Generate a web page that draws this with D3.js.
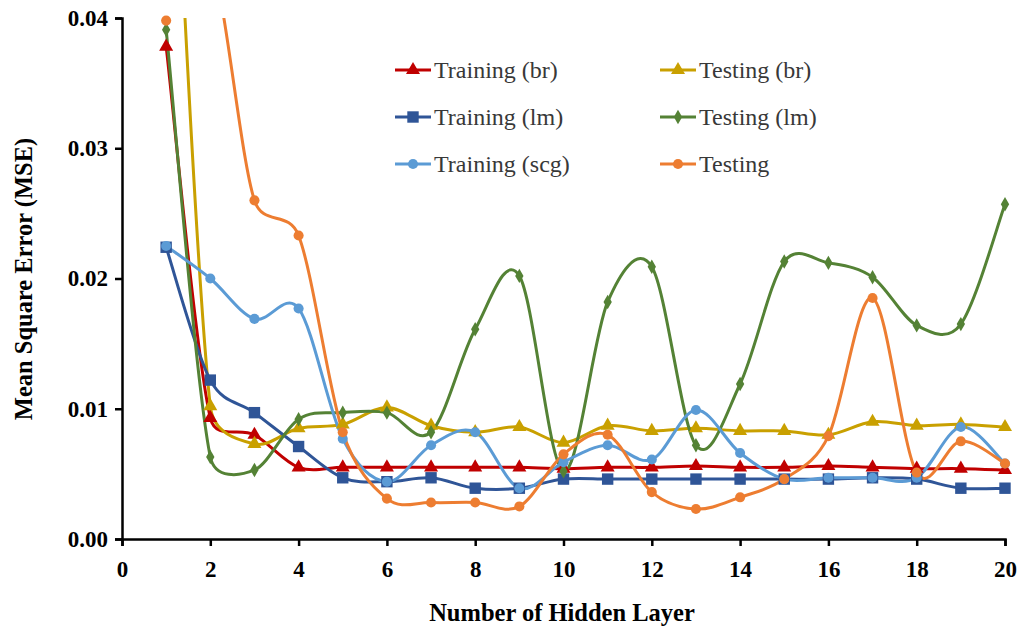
<!DOCTYPE html>
<html>
<head>
<meta charset="utf-8">
<script src="https://cdn.jsdelivr.net/npm/d3@7"></script>
<style>
  body { margin: 0; background: #fff; }
  svg text { font-family: "Liberation Serif", "Times New Roman", serif; }
</style>
</head>
<body>
<div id="chart"></div>
<script>
// hidden layers 1..20
const layers = d3.range(1, 21);

const trainBr  = [0.0378, 0.0093, 0.0080, 0.0055, 0.0055, 0.0055, 0.0055, 0.0055, 0.0055, 0.0054, 0.0055, 0.0055, 0.0056, 0.0055, 0.0055, 0.0056, 0.0055, 0.0054, 0.0054, 0.0053];
const testBr   = [0.0680, 0.0102, 0.0073, 0.0085, 0.0088, 0.0101, 0.0087, 0.0082, 0.0086, 0.0074, 0.0087, 0.0083, 0.0085, 0.0083, 0.0083, 0.0080, 0.0090, 0.0087, 0.0088, 0.0086];
const trainLm  = [0.0224, 0.0122, 0.0097, 0.0071, 0.0047, 0.0044, 0.0047, 0.0039, 0.0039, 0.0046, 0.0046, 0.0046, 0.0046, 0.0046, 0.0046, 0.0046, 0.0047, 0.0046, 0.0039, 0.0039];
const testLm   = [0.0391, 0.0063, 0.0053, 0.0092, 0.0097, 0.0097, 0.0082, 0.0161, 0.0202, 0.0052, 0.0182, 0.0209, 0.0072, 0.0119, 0.0213, 0.0212, 0.0201, 0.0164, 0.0165, 0.0257];
const trainScg = [0.0225, 0.0200, 0.0169, 0.0177, 0.0077, 0.0044, 0.0072, 0.0082, 0.0039, 0.0059, 0.0072, 0.0061, 0.0099, 0.0066, 0.0046, 0.0047, 0.0047, 0.0047, 0.0086, 0.0058];
const testScg  = [0.0398, 0.0445, 0.0260, 0.0233, 0.0082, 0.0031, 0.0028, 0.0028, 0.0025, 0.0065, 0.0080, 0.0036, 0.0023, 0.0032, 0.0046, 0.0079, 0.0185, 0.0051, 0.0075, 0.0058];

const seriesNames = ["Training (br)", "Testing (br)", "Training (lm)", "Testing (lm)", "Training (scg)", "Testing"];
const seriesValues = [trainBr, testBr, trainLm, testLm, trainScg, testScg];
const seriesColors = ["#C00000", "#C9A000", "#2F5597", "#548235", "#5B9BD5", "#ED7D31"];
const seriesSymbols = [d3.symbolTriangle, d3.symbolTriangle, d3.symbolSquare, d3.symbolDiamond, d3.symbolCircle, d3.symbolCircle];
const symbolSizes = [85, 85, 130, 60, 80, 80];

const xTicks = d3.range(0, 21, 2);
const yTicks = [0, 0.01, 0.02, 0.03, 0.04];

const W = 1021, H = 630;
const margin = {top: 18, right: 16, bottom: 91, left: 122};
const serif = "'Liberation Serif', 'Times New Roman', serif";

const svg = d3.select("#chart").append("svg")
  .attr("width", W).attr("height", H);

const x = d3.scaleLinear().domain([0, 20]).range([margin.left, W - margin.right]);
const y = d3.scaleLinear().domain([0, 0.04]).range([H - margin.bottom, margin.top]);

svg.append("clipPath").attr("id", "clip")
  .append("rect")
  .attr("x", margin.left).attr("y", margin.top)
  .attr("width", W - margin.right - margin.left)
  .attr("height", H - margin.bottom - margin.top);

// axes
const xAxis = svg.append("g")
  .attr("transform", "translate(0," + (H - margin.bottom) + ")")
  .call(d3.axisBottom(x).tickValues(xTicks).tickSize(7).tickSizeOuter(7).tickFormat(d3.format("d")));
const yAxis = svg.append("g")
  .attr("transform", "translate(" + margin.left + ",0)")
  .call(d3.axisLeft(y).tickValues(yTicks).tickSize(7).tickSizeOuter(7).tickFormat(d3.format(".2f")));

[xAxis, yAxis].forEach(function(a) {
  a.attr("font-family", serif);
  a.select(".domain").attr("stroke", "#000").attr("stroke-width", 2.5);
  a.selectAll(".tick line").attr("stroke", "#000").attr("stroke-width", 2.5);
  a.selectAll(".tick text")
    .attr("fill", "#000")
    .style("font-size", "23px")
    .style("font-weight", "bold")
    .style("font-family", serif);
});
xAxis.selectAll(".tick text").attr("dy", "1.2em");
yAxis.selectAll(".tick text").attr("x", -14);

svg.append("text")
  .attr("x", 562)
  .attr("y", 621)
  .attr("text-anchor", "middle")
  .style("font-size", "24.5px").style("font-weight", "bold")
  .text("Number of Hidden Layer");

svg.append("text")
  .attr("transform", "translate(32,279) rotate(-90)")
  .attr("text-anchor", "middle")
  .style("font-size", "24.5px").style("font-weight", "bold")
  .text("Mean Square Error  (MSE)");

// spreadsheet style smoothing: bezier with 1/6 tangents, capped by chord length
function smoothPath(pts) {
  const p = d3.path();
  const dist = function(a, b) { return Math.hypot(b[0] - a[0], b[1] - a[1]); };
  p.moveTo(pts[0][0], pts[0][1]);
  for (let i = 0; i < pts.length - 1; i++) {
    const p0 = pts[Math.max(i - 1, 0)], p1 = pts[i], p2 = pts[i + 1], p3 = pts[Math.min(i + 2, pts.length - 1)];
    const d12 = dist(p1, p2), d02 = dist(p0, p2) || 1, d13 = dist(p1, p3) || 1;
    const f1 = Math.min(1 / 6, d12 / (2 * d02));
    const f2 = Math.min(1 / 6, d12 / (2 * d13));
    p.bezierCurveTo(
      p1[0] + (p2[0] - p0[0]) * f1, p1[1] + (p2[1] - p0[1]) * f1,
      p2[0] - (p3[0] - p1[0]) * f2, p2[1] - (p3[1] - p1[1]) * f2,
      p2[0], p2[1]);
  }
  return p.toString();
}

const plot = svg.append("g").attr("clip-path", "url(#clip)");

seriesValues.forEach(function(vals, s) {
  plot.append("path")
    .attr("fill", "none")
    .attr("stroke", seriesColors[s])
    .attr("stroke-width", 3)
    .attr("d", smoothPath(vals.map(function(v, i) { return [x(layers[i]), y(v)]; })));
});

seriesValues.forEach(function(vals, s) {
  const sym = d3.symbol().type(seriesSymbols[s]).size(symbolSizes[s]);
  svg.append("g").selectAll("path")
    .data(vals.map(function(v, i) { return {x: layers[i], v: v}; }).filter(function(d) { return d.v <= 0.0401; }))
    .enter().append("path")
    .attr("transform", function(d) { return "translate(" + x(d.x) + "," + y(d.v) + ")"; })
    .attr("d", sym)
    .attr("fill", seriesColors[s]);
});

// legend
const legCols = [395, 660];
const legRows = [70, 117, 164];
seriesNames.forEach(function(name, s) {
  const lx = legCols[s % 2], ly = legRows[Math.floor(s / 2)];
  const g = svg.append("g").attr("transform", "translate(" + lx + "," + ly + ")");
  g.append("line").attr("x1", 0).attr("x2", 36).attr("y1", 0).attr("y2", 0)
    .attr("stroke", seriesColors[s]).attr("stroke-width", 3);
  g.append("path").attr("transform", "translate(18,0)")
    .attr("d", d3.symbol().type(seriesSymbols[s]).size(symbolSizes[s])())
    .attr("fill", seriesColors[s]);
  g.append("text").attr("x", 39).attr("y", 8)
    .style("font-size", "24px").attr("fill", "#383838")
    .text(name);
});
</script>
</body>
</html>
